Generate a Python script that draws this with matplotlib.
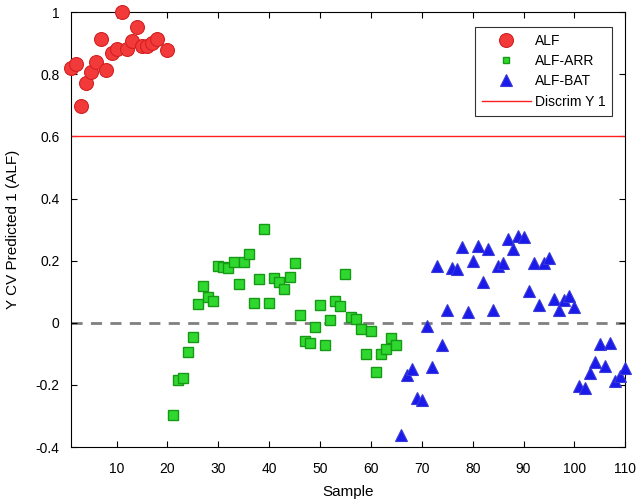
import matplotlib
matplotlib.use("Agg")
import matplotlib.pyplot as plt

plt.rcParams["font.family"] = ["Liberation Sans", "DejaVu Sans"]

# sample numbers / predicted values
alf_x = [1, 2, 3, 4, 5, 6, 7, 8, 9, 10, 11, 12, 13, 14, 15, 16, 17, 18, 20]
alf_y = [0.819, 0.832, 0.697, 0.772, 0.808, 0.840, 0.913, 0.813, 0.869, 0.880,
         1.0, 0.880, 0.907, 0.953, 0.891, 0.891, 0.901, 0.915, 0.878]

arr_x = list(range(21, 66))
arr_y = [-0.297, -0.184, -0.177, -0.095, -0.046, 0.060, 0.118, 0.082, 0.069, 0.183,
         0.180, 0.175, 0.196, 0.126, 0.195, 0.221, 0.064, 0.140, 0.302, 0.064,
         0.143, 0.131, 0.110, 0.146, 0.192, 0.024, -0.058, -0.066, -0.013, 0.057,
         -0.070, 0.009, 0.070, 0.053, 0.156, 0.019, 0.012, -0.021, -0.099, -0.026,
         -0.157, -0.099, -0.086, -0.049, -0.071]

bat_x = list(range(66, 111))
bat_y = [-0.361, -0.168, -0.150, -0.241, -0.249, -0.011, -0.142, 0.182, -0.072, 0.041,
         0.175, 0.173, 0.245, 0.035, 0.200, 0.248, 0.132, 0.237, 0.041, 0.183,
         0.194, 0.269, 0.236, 0.280, 0.275, 0.102, 0.193, 0.057, 0.191, 0.209,
         0.076, 0.041, 0.073, 0.086, 0.050, -0.203, -0.209, -0.163, -0.126, -0.069,
         -0.138, -0.064, -0.187, -0.172, -0.144]

discrim_y = 0.6
xticks = [10, 20, 30, 40, 50, 60, 70, 80, 90, 100, 110]
yticks = [-0.4, -0.2, 0, 0.2, 0.4, 0.6, 0.8, 1]
ytick_labels = ["-0.4", "-0.2", "0", "0.2", "0.4", "0.6", "0.8", "1"]

fig = plt.figure(figsize=(6.38, 5.04), dpi=100)
ax = fig.add_axes([0.111, 0.113, 0.869, 0.863])

ax.plot(alf_x, alf_y, "o", ms=10, mfc="#f23a3a", mec="#d42020", mew=0.8,
        label="ALF", zorder=3, clip_on=False)
ax.plot(arr_x, arr_y, "s", ms=6.5, mfc="#2fd82f", mec="#169a16", mew=1.0,
        label="ALF-ARR", zorder=3, clip_on=False)
ax.plot(bat_x, bat_y, "^", ms=9, mfc="#1a1aeb", mec="#3a3ad8", mew=0.8,
        label="ALF-BAT", zorder=3, clip_on=False)
ax.axhline(discrim_y, color="#ff2020", lw=1.0, label="Discrim Y 1", zorder=2)
ax.axhline(0, color="#808080", lw=2.0, ls=(0, (4, 3)), zorder=1)

ax.set_xlim(1, 110)
ax.set_ylim(-0.4, 1)
ax.set_xticks(xticks)
ax.set_yticks(yticks)
ax.set_yticklabels(ytick_labels)
ax.tick_params(direction="in", top=True, right=True, labelsize=10, length=4)
ax.tick_params(axis="x", pad=11)
ax.tick_params(axis="y", pad=8)
ax.set_xlabel("Sample", fontsize=11, labelpad=6)
ax.set_ylabel("Y CV Predicted 1 (ALF)", fontsize=11, labelpad=11)

leg = ax.legend(loc="upper right", bbox_to_anchor=(0.977, 0.966), borderaxespad=0,
                fontsize=10, fancybox=False, edgecolor="#333333", framealpha=1,
                handlelength=3.5, handletextpad=0.3, borderpad=0.5,
                labelspacing=0.45)
leg.get_frame().set_linewidth(0.8)
# smaller legend symbols, like the original
leg.legend_handles[1].set_markersize(4.5)
leg.legend_handles[2].set_markersize(8)

fig.savefig("out.png", dpi=100)
